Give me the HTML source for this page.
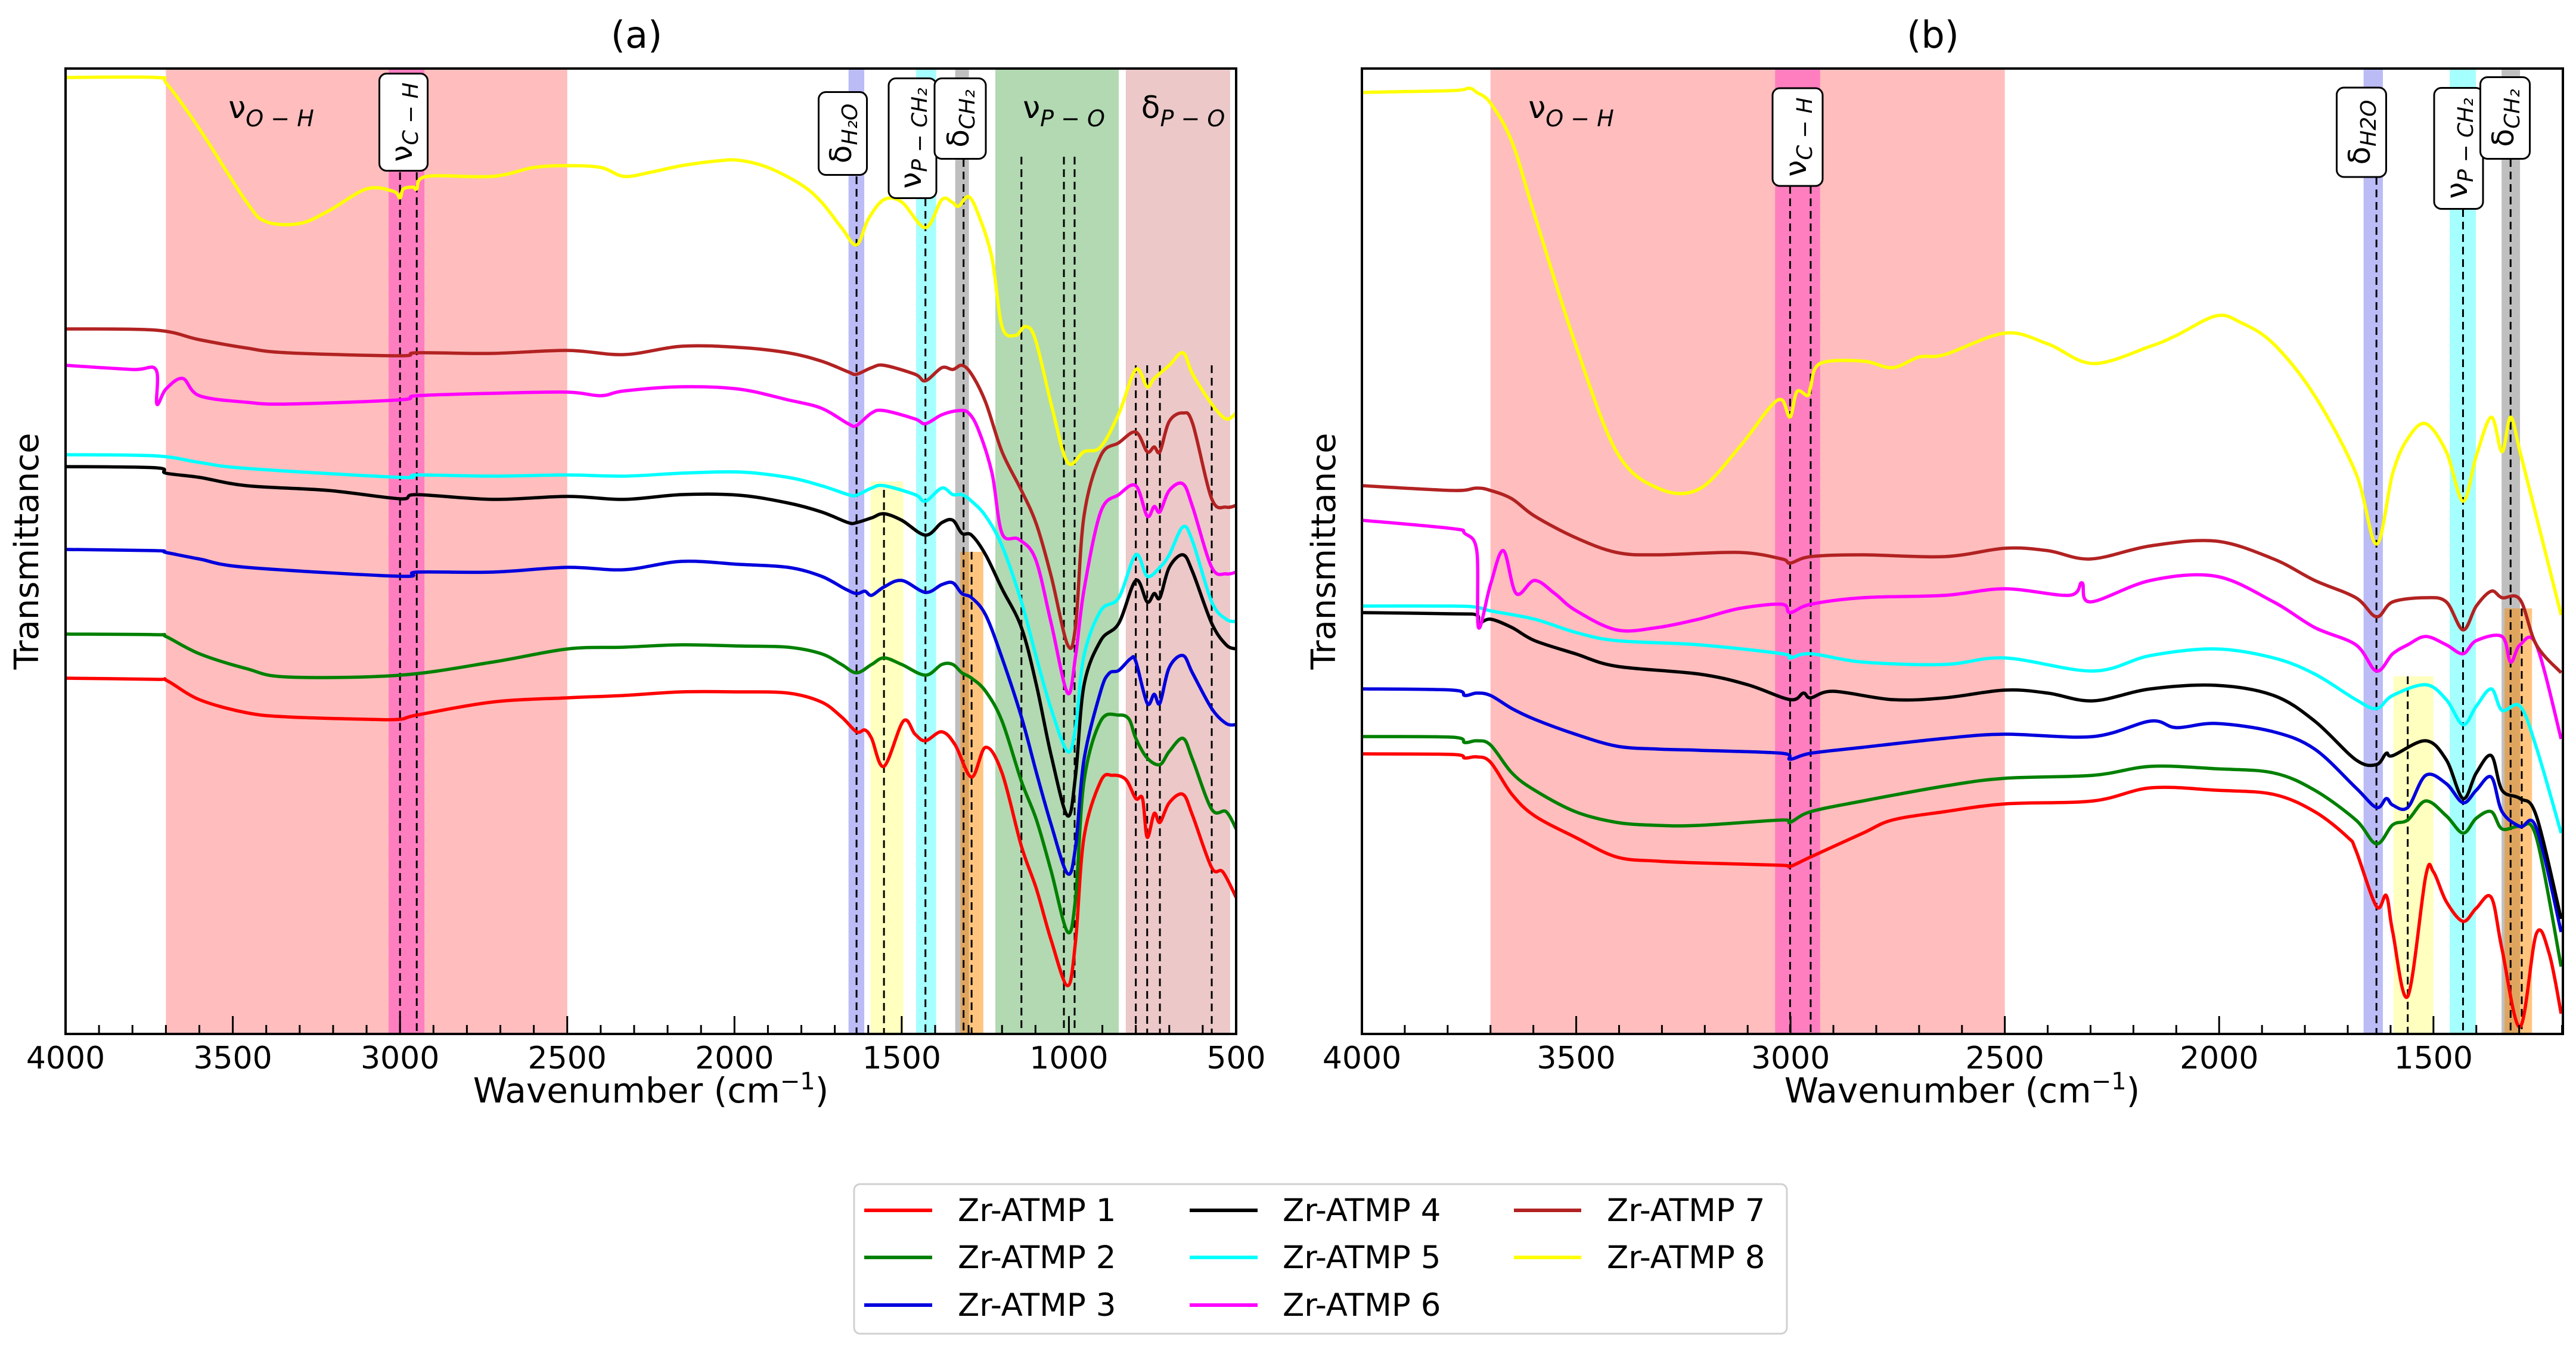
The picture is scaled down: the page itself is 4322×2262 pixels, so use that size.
<!DOCTYPE html>
<html><head><meta charset="utf-8"><style>
html,body{margin:0;padding:0;background:#fff;}
svg{display:block;font-family:"DejaVu Sans","Liberation Sans",sans-serif;}
</style></head><body>
<svg id="chart" width="4322" height="2262" viewBox="0 0 4322 2262" xmlns="http://www.w3.org/2000/svg">
<defs>
<clipPath id="clipA"><rect x="110" y="115" width="1964" height="1620"/></clipPath>
<clipPath id="clipB"><rect x="2285" y="115" width="2015" height="1620"/></clipPath>
</defs>
<text x="1068" y="80" font-size="62" text-anchor="middle">(a)</text>
<text x="3243" y="80" font-size="62" text-anchor="middle">(b)</text>
<text transform="translate(64,925) rotate(-90)" font-size="56" text-anchor="middle">Transmittance</text>
<text transform="translate(2240,925) rotate(-90)" font-size="56" text-anchor="middle">Transmittance</text>
<text x="1092" y="1850" font-size="58" text-anchor="middle">Wavenumber (cm<tspan dy="-22" font-size="40">−1</tspan><tspan dy="22">)</tspan></text>
<text x="3292" y="1850" font-size="58" text-anchor="middle">Wavenumber (cm<tspan dy="-22" font-size="40">−1</tspan><tspan dy="22">)</tspan></text>
<g id="panelA"></g>
<g id="panelB"></g>
<g>
<rect x="1433" y="1987" width="1565" height="251" rx="10" fill="#fff" stroke="#d0d0d0" stroke-width="3"/>
<g><line x1="1450" y1="2031" x2="1564" y2="2031" stroke="#ff0000" stroke-width="6"/><text x="1607" y="2049" font-size="53">Zr-ATMP 1</text></g>
<g><line x1="1450" y1="2110" x2="1564" y2="2110" stroke="#008000" stroke-width="6"/><text x="1607" y="2128" font-size="53">Zr-ATMP 2</text></g>
<g><line x1="1450" y1="2190" x2="1564" y2="2190" stroke="#0000dd" stroke-width="6"/><text x="1607" y="2208" font-size="53">Zr-ATMP 3</text></g>
<g><line x1="1996" y1="2031" x2="2110" y2="2031" stroke="#000" stroke-width="6"/><text x="2152" y="2049" font-size="53">Zr-ATMP 4</text></g>
<g><line x1="1996" y1="2110" x2="2110" y2="2110" stroke="#00ffff" stroke-width="6"/><text x="2152" y="2128" font-size="53">Zr-ATMP 5</text></g>
<g><line x1="1996" y1="2190" x2="2110" y2="2190" stroke="#ff00ff" stroke-width="6"/><text x="2152" y="2208" font-size="53">Zr-ATMP 6</text></g>
<g><line x1="2540" y1="2031" x2="2653" y2="2031" stroke="#b22222" stroke-width="6"/><text x="2696" y="2049" font-size="53">Zr-ATMP 7</text></g>
<g><line x1="2540" y1="2110" x2="2653" y2="2110" stroke="#ffff00" stroke-width="6"/><text x="2696" y="2128" font-size="53">Zr-ATMP 8</text></g>
</g>
</svg>
<script>
// ---------- data ----------
const seriesNames = ["Zr-ATMP 1","Zr-ATMP 2","Zr-ATMP 3","Zr-ATMP 4","Zr-ATMP 5","Zr-ATMP 6","Zr-ATMP 7","Zr-ATMP 8"];
const xTicksA = [4000,3500,3000,2500,2000,1500,1000,500];
const xTicksB = [4000,3500,3000,2500,2000,1500];
const a1 = [[4000,59.7],[3730,59.5],[3697,59.3],[3600,56.1],[3459,53.9],[3337,53.2],[3100,52.8],[3000,52.8],[2950,53.5],[2723,55.7],[2500,56.4],[2330,56.8],[2158,57.4],[1986,57.4],[1840,57.2],[1740,55.7],[1680,53.2],[1635,50.7],[1610,51],[1590,49.6],[1553,44.9],[1495,52.5],[1460,50.3],[1429,49.2],[1380,50.7],[1340,48.5],[1291,43.1],[1249,48.1],[1200,43.8],[1142,31.5],[1097,24.3],[1053,15.7],[1004,8.1],[980,15.7],[955,33],[905,42.4],[870,43.4],[830,42.7],[800,39.5],[780,39.5],[766,33],[745,37],[728,35.5],[700,38.8],[659,40.2],[630,36.6],[573,27.9],[540,27.2],[500,22.9]];
const a2 = [[4000,67.1],[3730,67],[3700,66.7],[3600,63.8],[3459,61.3],[3337,59.9],[3000,60.2],[2723,62.4],[2500,64.6],[2330,64.9],[2158,65.3],[1986,65.1],[1840,64.9],[1740,63.8],[1680,62],[1635,60.6],[1590,62],[1553,63.1],[1500,62],[1429,60.2],[1380,62],[1347,62],[1320,60.6],[1291,59.7],[1249,57.5],[1200,52.5],[1142,42.4],[1097,35.9],[1053,27.3],[1004,17.1],[980,22.9],[955,42.4],[905,52.5],[851,53.5],[820,52.8],[800,49.6],[766,46.3],[728,45.2],[700,47.4],[659,49.6],[630,46],[573,37.7],[530,37.3],[500,34.4]];
const a3 = [[4000,81.3],[3730,81.1],[3700,80.8],[3600,79.7],[3459,78.3],[3000,76.8],[2950,77.5],[2723,77.5],[2500,78.3],[2330,77.9],[2158,79.3],[1986,78.8],[1840,78.3],[1740,76.8],[1670,74.7],[1635,73.9],[1610,74.3],[1590,73.6],[1553,75],[1500,76.1],[1429,74.1],[1380,75.4],[1347,75.7],[1320,73.9],[1291,73.2],[1249,70.3],[1200,63.1],[1142,53.2],[1097,43.8],[1053,35.1],[1004,26.9],[980,31.5],[955,46],[905,57.5],[880,60.5],[851,61],[815,63],[800,62.5],[766,55.5],[745,57],[728,55.5],[700,61.5],[659,63.5],[630,60.5],[573,54.6],[530,52.1],[500,51.9]];
const a4 = [[4000,95.2],[3730,95],[3700,94.1],[3600,93.4],[3459,92],[3214,91.2],[3000,89.8],[2950,90.5],[2723,89.7],[2500,90.2],[2330,89.7],[2158,90.5],[1986,90.4],[1840,89.1],[1740,87.6],[1660,85.8],[1635,85.8],[1590,86.6],[1553,87.3],[1500,86.2],[1429,83.7],[1380,85.8],[1347,86.2],[1320,84],[1291,83.7],[1249,80.4],[1200,74.7],[1142,68.2],[1097,58.5],[1053,46.7],[1004,36.6],[980,43.5],[955,58.5],[905,66],[851,68.9],[800,76.1],[766,72.5],[745,73.9],[728,73.2],[700,78.3],[659,80.4],[630,77.5],[573,68.9],[530,65.3],[500,64.6]];
const a5 = [[4000,97.2],[3730,97],[3600,95.9],[3459,94.9],[3000,93.4],[2950,93.8],[2723,93.6],[2500,93.8],[2330,93.6],[2158,94.1],[1986,94.3],[1840,93.4],[1740,92],[1660,90.5],[1635,90.4],[1590,91.6],[1553,92],[1460,90.5],[1429,89.4],[1380,91.6],[1347,90.5],[1320,90.5],[1291,89.4],[1249,86.9],[1200,81.9],[1142,72.5],[1097,63.1],[1053,54.5],[1004,47.4],[980,51.5],[955,63.5],[905,71],[851,73.2],[800,80.4],[766,76.8],[728,78.3],[700,80.4],[659,85.1],[630,82.6],[573,72.5],[530,69.6],[500,69.2]];
const a6 = [[4000,112.2],[3800,111.5],[3730,111.5],[3727,105.7],[3700,108.2],[3650,110],[3600,107.1],[3459,106],[3337,105.7],[3000,106.4],[2950,107.1],[2723,107.5],[2500,107.7],[2400,107.1],[2330,107.9],[2158,108.6],[1986,108.2],[1840,106.4],[1740,105],[1660,102.4],[1635,102.1],[1590,104.2],[1553,104.6],[1460,103.2],[1429,102.4],[1380,103.9],[1330,104.6],[1300,104.2],[1270,101.3],[1230,94.1],[1200,84],[1150,83],[1100,79.7],[1053,68.9],[1004,57.2],[980,63.5],[955,74.5],[905,87.6],[851,90.5],[800,92],[766,86.9],[745,88.5],[728,87.6],[700,91.2],[659,92.3],[630,88.4],[573,78.3],[530,77.2],[500,77.5]];
const a7 = [[4000,118.3],[3730,118.1],[3600,116.5],[3459,115.1],[3337,114.3],[3000,113.8],[2950,114.3],[2723,114.2],[2500,114.7],[2330,114],[2158,115.4],[1986,115.2],[1840,114.3],[1740,112.9],[1660,111.1],[1635,110.7],[1590,111.8],[1553,112.2],[1460,110.7],[1429,109.6],[1380,111.8],[1347,111.5],[1320,112.2],[1291,110.7],[1249,106],[1200,97.7],[1142,91.2],[1097,85.5],[1053,76.8],[1004,65.3],[980,68.5],[955,86.9],[905,97],[851,99.2],[800,101],[766,97.7],[745,98.5],[728,97.7],[700,102.8],[659,104.2],[630,102.4],[573,89.8],[530,88.4],[500,88.7]];
const a8 = [[4000,160.5],[3730,160.5],[3697,159.4],[3600,151.9],[3459,139.6],[3400,136.3],[3300,136],[3214,138.1],[3100,141.8],[3020,141.4],[3000,140.3],[2990,141.8],[2960,142.1],[2950,141.8],[2920,143.9],[2723,143.9],[2600,145.4],[2500,145.7],[2400,145.4],[2330,143.9],[2250,144.6],[2158,145.7],[2050,146.5],[1986,146.6],[1900,145.4],[1800,142.5],[1740,139.6],[1680,135.3],[1635,132.4],[1600,136.7],[1553,140],[1500,139.6],[1429,135.3],[1380,140],[1350,139.6],[1330,138.9],[1300,140.5],[1270,137.4],[1230,130.2],[1200,118.7],[1160,117.2],[1130,118.7],[1100,116.5],[1050,105],[1004,95.9],[955,97.7],[905,98.5],[850,104.2],[800,111.5],[766,108.6],[745,110],[700,112.2],[659,114.3],[630,110.7],[573,105.7],[530,103.2],[500,104.2]];
const b1 = [[4000,47],[3789,46.9],[3760,46.3],[3732,46.5],[3700,45.6],[3650,40.2],[3597,36.6],[3502,33],[3406,29.7],[3310,29],[3214,28.7],[3020,28.3],[3001,28.1],[2953,29.7],[2831,33.7],[2762,35.9],[2640,37.3],[2500,38.6],[2294,39.1],[2160,41.3],[2007,40.9],[1873,40.2],[1777,37.3],[1700,33],[1681,30.8],[1633,21.4],[1610,23.2],[1595,17.1],[1560,6.3],[1518,26.5],[1500,27.2],[1470,22.2],[1431,18.9],[1400,21.1],[1365,22.9],[1340,14.2],[1298,1.2],[1260,16.8],[1230,13.5],[1202,3.4]];
const b2 = [[4000,49.9],[3789,49.8],[3760,48.9],[3732,49.2],[3700,48.5],[3650,43.8],[3597,40.9],[3502,37.3],[3406,35.5],[3310,35],[3214,35],[3020,35.9],[3001,35.5],[2953,37.3],[2831,39.1],[2640,41.6],[2500,42.9],[2294,43.4],[2160,44.9],[2007,44.5],[1873,43.8],[1777,40.9],[1681,35.9],[1633,31.9],[1595,35.1],[1560,35.9],[1518,39.1],[1470,36.6],[1431,33.7],[1400,36.2],[1365,37.3],[1340,34.4],[1298,34.8],[1260,33],[1202,11.3]];
const b3 = [[4000,57.9],[3789,57.7],[3760,56.8],[3732,57.2],[3700,56.8],[3650,54.6],[3597,52.8],[3502,50.3],[3406,48.3],[3310,47.8],[3214,47.6],[3020,47.1],[3001,46.1],[2953,47.1],[2831,48.1],[2640,49.6],[2500,50.3],[2294,49.9],[2160,52.5],[2100,51.4],[2007,52.1],[1873,50.7],[1777,47.8],[1681,41.3],[1633,38],[1610,39.5],[1595,38.4],[1560,38],[1518,43.4],[1470,42],[1431,38.8],[1400,40.9],[1365,43.1],[1340,37.3],[1298,34.8],[1260,34.6],[1202,17.1]];
const b4 = [[4000,70.7],[3789,70.5],[3732,70.3],[3728,68.9],[3700,69.6],[3650,68.2],[3597,66],[3502,63.8],[3406,61.7],[3214,60.4],[3100,58.6],[3001,56.1],[2970,57.2],[2953,56.4],[2900,57.5],[2762,56.1],[2640,56.4],[2500,57.7],[2400,57.2],[2294,55.9],[2160,57.9],[2007,58.5],[1873,56.8],[1777,52.5],[1681,46],[1633,45.2],[1610,47.1],[1595,46.7],[1518,49.2],[1470,46],[1431,39.5],[1400,43.8],[1365,46.7],[1340,40.9],[1298,39.5],[1260,36.6],[1202,19.3]];
const b5 = [[4000,71.8],[3789,71.8],[3732,71.6],[3700,71],[3597,69.6],[3502,67.4],[3406,66],[3214,65.3],[3020,63.8],[3001,63.1],[2953,63.8],[2831,62.4],[2640,62],[2500,63.1],[2294,60.9],[2160,63.5],[2007,64.6],[1873,63.1],[1777,60.4],[1681,56.1],[1633,54.6],[1595,56.8],[1518,58.6],[1470,56.1],[1431,51.9],[1400,55],[1365,57.9],[1340,54.3],[1298,55],[1260,48.1],[1202,33.7]];
const b6 = [[4000,86.2],[3789,84.8],[3760,84],[3732,81.1],[3728,68.2],[3700,75.4],[3670,81.1],[3640,73.9],[3597,76.1],[3550,73.9],[3502,71.1],[3406,67.8],[3310,68.2],[3214,69.6],[3119,71.4],[3020,72.1],[3001,70.7],[2953,72.1],[2831,73.2],[2640,73.6],[2500,74.7],[2350,73.6],[2320,75.7],[2300,72.5],[2160,76.1],[2007,76.8],[1873,72.5],[1777,68.2],[1681,65.3],[1633,60.9],[1595,63.8],[1560,65.3],[1518,66.7],[1470,65.3],[1431,63.8],[1400,66],[1340,66.7],[1320,62.4],[1298,65.3],[1260,65.3],[1202,49.5]];
const b7 = [[4000,92],[3789,91.2],[3732,91.6],[3700,91.2],[3650,89.8],[3597,86.9],[3502,83.3],[3406,80.8],[3310,80.4],[3119,80.8],[3020,79.7],[3001,79],[2953,80.1],[2831,80.4],[2640,80.1],[2500,81.5],[2400,81.1],[2300,79.7],[2160,81.9],[2007,82.7],[1873,79.7],[1777,76.1],[1681,73.2],[1633,70],[1595,72.5],[1518,73.2],[1470,72.5],[1431,67.8],[1400,71.8],[1365,74.3],[1340,73.2],[1298,72.9],[1260,65.3],[1202,60.6]];
const b8 = [[4000,158],[3789,158.3],[3750,158.7],[3732,158],[3700,156.2],[3650,149.7],[3597,137.4],[3502,115.8],[3406,97.7],[3310,91.6],[3214,91.4],[3119,98.5],[3050,105],[3020,106.4],[3001,103.5],[2985,107.8],[2960,107.1],[2953,108.6],[2931,112.5],[2831,112.9],[2762,111.8],[2700,113.6],[2640,114],[2500,117.6],[2400,115.8],[2294,112.5],[2160,115.4],[2100,117.2],[2007,120.5],[1950,119.4],[1873,115.8],[1777,107.1],[1681,94.1],[1633,82.2],[1595,94.1],[1560,99.9],[1518,102.4],[1470,97.7],[1431,89.4],[1400,97],[1365,103.5],[1340,97.7],[1320,103.5],[1298,97.7],[1260,86.9],[1202,70.3]];
const seriesA = [a1,a2,a3,a4,a5,a6,a7,a8];
const seriesB = [b1,b2,b3,b4,b5,b6,b7,b8];
const colors = ["#ff0000","#008000","#0000dd","#000000","#00ffff","#ff00ff","#b22222","#ffff00"];
const bandsA = [[3700,2500,"rgba(255,0,0,0.26)",null],[3034,2927,"rgba(255,0,200,0.33)",null],[1659,1612,"rgba(60,60,230,0.35)",null],[1593,1495,"rgba(255,255,0,0.25)",92.7],[1457,1397,"rgba(0,255,255,0.35)",null],[1340,1299,"rgba(128,128,128,0.5)",null],[1324,1256,"rgba(255,140,0,0.5)",80.9],[1220,851,"rgba(0,128,0,0.3)",null],[830,518,"rgba(178,34,34,0.25)",null]];
const bandsB = [[3700,2500,"rgba(255,0,0,0.26)",null],[3036,2931,"rgba(255,0,200,0.33)",null],[1663,1618,"rgba(60,60,230,0.35)",null],[1593,1500,"rgba(255,255,0,0.25)",60],[1462,1401,"rgba(0,255,255,0.35)",null],[1341,1298,"rgba(128,128,128,0.5)",null],[1334,1270,"rgba(255,140,0,0.5)",71.4]];
const peaksA = [[3000,144.6],[2950,144.6],[1635,143.9],[1553,91.3],[1429,140.2],[1315,146.8],[1291,80.9],[1142,147.2],[1015,147.2],[983,147.2],[800,112.2],[766,112.2],[728,112.2],[573,112.2]];
const peaksB = [[3001,142.3],[2953,142.3],[1633,143.8],[1560,60],[1431,138.4],[1320,146.8],[1294,71.4]];
// ---------- scales ----------
function xA(w){return 110+(4000-w)*1964/3500;}
function xB(w){return 2285+(4000-w)*2015/2802;}
function yS(v){return 1735-v*10;}
const NS="http://www.w3.org/2000/svg";
function mk(tag,attrs,parent){const e=document.createElementNS(NS,tag);for(const k in attrs)e.setAttribute(k,attrs[k]);parent.appendChild(e);return e;}
function smoothPath(pts){
  let d="M"+pts[0][0].toFixed(1)+","+pts[0][1].toFixed(1);
  for(let i=0;i<pts.length-1;i++){
    const p0=pts[Math.max(0,i-1)],p1=pts[i],p2=pts[i+1],p3=pts[Math.min(pts.length-1,i+2)];
    const c1x=p1[0]+(p2[0]-p0[0])/6,c1y=p1[1]+(p2[1]-p0[1])/6;
    const c2x=p2[0]-(p3[0]-p1[0])/6,c2y=p2[1]-(p3[1]-p1[1])/6;
    d+="C"+c1x.toFixed(1)+","+c1y.toFixed(1)+" "+c2x.toFixed(1)+","+c2y.toFixed(1)+" "+p2[0].toFixed(1)+","+p2[1].toFixed(1);
  }
  return d;
}
function drawPanel(g,xf,L,R,bands,peaks,series,ticks,minorFrom,minorTo,clip,panel){
  const bg=mk("g",{"clip-path":"url(#"+clip+")"},g);
  bands.forEach((b,i)=>{
    const x1=xf(b[0]),x2=xf(b[1]);const top=b[3]===null?115:yS(b[3]);
    const r=mk("rect",{x:x1,y:top,width:x2-x1,height:1735-top,fill:b[2]},bg);
    
    
  });
  peaks.forEach((p,i)=>{
    const l=mk("line",{x1:xf(p[0]),x2:xf(p[0]),y1:yS(p[1]),y2:1735,stroke:"#000","stroke-width":3,"stroke-dasharray":"13,8"},bg);
    
    
  });
  series.forEach((s,i)=>{
    const pts=s.map(p=>[xf(p[0]),yS(p[1])]);
    const path=mk("path",{d:smoothPath(pts),fill:"none",stroke:colors[i],"stroke-width":5.5,"stroke-linejoin":"round"},bg);
    
    
  });
  const fr=mk("rect",{x:L,y:115,width:R-L,height:1620,fill:"none",stroke:"#000","stroke-width":4},g);
  
  
  for(let w=minorFrom;w>=minorTo;w-=100){
    const major=(w%500===0);
    const t=mk("line",{x1:xf(w),x2:xf(w),y1:1735,y2:1735-(major?30:15),stroke:"#000","stroke-width":3},g);
    
    
  }
  ticks.forEach(w=>{
    const t=mk("text",{x:xf(w),y:1793,"font-size":52,"text-anchor":"middle"},g);
    t.textContent=w;
    
    
  });
}
drawPanel(document.getElementById("panelA"),xA,110,2074,bandsA,peaksA,seriesA,xTicksA,4000,500,"clipA","panel-a");
drawPanel(document.getElementById("panelB"),xB,2285,4300,bandsB,peaksB,seriesB,xTicksB,4000,1200,"clipB","panel-b");

function plainLabel(parent,x,y,sym,sub,name){
  const t=mk("text",{x:x,y:y,"font-size":52,"text-anchor":"middle"},parent);
  
  
  const a=mk("tspan",{},t);a.textContent=sym;
  const b=mk("tspan",{dy:14,"font-size":38,"font-style":"italic"},t);b.textContent=sub;
}
function boxLabel(parent,cx,cy,w,h,sym,sub,name){
  const g=mk("g",{transform:"translate("+cx+","+cy+") rotate(-90)"},parent);
  
  
  mk("rect",{x:-h/2,y:-w/2,width:h,height:w,rx:12,fill:"#fff",stroke:"#000","stroke-width":3},g);
  const t=mk("text",{x:0,y:14,"font-size":50,"text-anchor":"middle"},g);
  const a=mk("tspan",{},t);a.textContent=sym;
  const b=mk("tspan",{dy:10,"font-size":36,"font-style":"italic"},t);b.textContent=sub;
}
const ann=mk("g",{},document.getElementById("chart"));
plainLabel(ann,455,198,"ν","O − H","label-nu-oh-a");
plainLabel(ann,1785,198,"ν","P − O","label-nu-po-a");
plainLabel(ann,1985,198,"δ","P − O","label-delta-po-a");
boxLabel(ann,677,205,81,163,"ν","C − H","label-nu-ch-a");
boxLabel(ann,1414,224,81,139,"δ","H₂O","label-delta-h2o-a");
boxLabel(ann,1531,232,80,201,"ν","P − CH₂","label-nu-pch2-a");
boxLabel(ann,1611,199,86,135,"δ","CH₂","label-delta-ch2-a");
plainLabel(ann,2636,198,"ν","O − H","label-nu-oh-b");
boxLabel(ann,3016,230,84,164,"ν","C − H","label-nu-ch-b");
boxLabel(ann,3962,222,83,150,"δ","H2O","label-delta-h2o-b");
boxLabel(ann,4125,249,82,203,"ν","P − CH₂","label-nu-pch2-b");
boxLabel(ann,4203,198,83,137,"δ","CH₂","label-delta-ch2-b");
</script>
</body></html>
